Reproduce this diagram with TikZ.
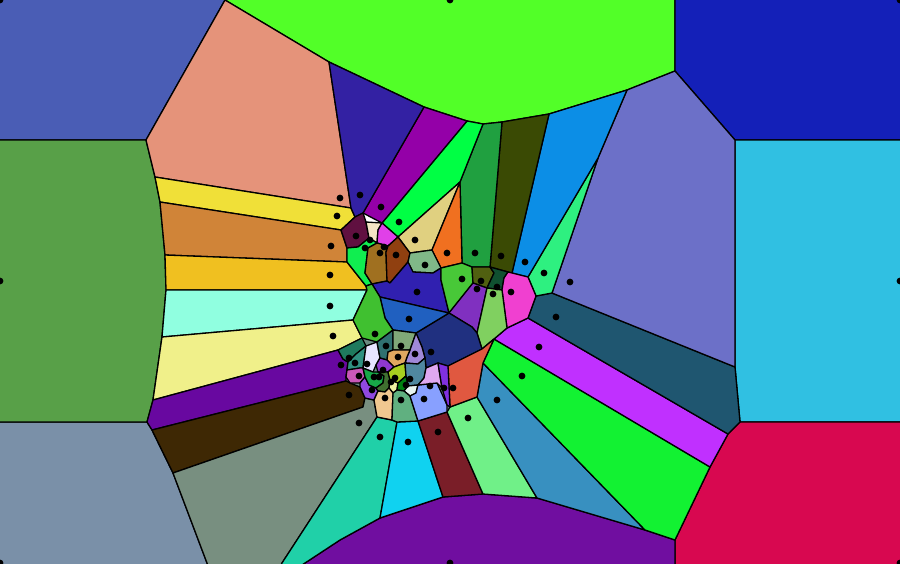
\documentclass[tikz,border=0pt]{standalone}
\definecolor{tlblue}{HTML}{4A5DB5}
\definecolor{topgreen}{HTML}{52FF28}
\definecolor{trblue}{HTML}{1420B8}
\definecolor{rcyan}{HTML}{30C0E2}
\definecolor{brred}{HTML}{D80850}
\definecolor{blgrey}{HTML}{7A90A8}
\definecolor{lgreen}{HTML}{58A048}
\definecolor{botpurple}{HTML}{700EA0}
\definecolor{salmon}{HTML}{E5937A}
\definecolor{yellowc}{HTML}{F0E038}
\definecolor{brownstripe}{HTML}{D08438}
\definecolor{golden}{HTML}{F0C020}
\definecolor{aqua}{HTML}{90FFE0}
\definecolor{lyellow}{HTML}{F0F08A}
\definecolor{purpleband}{HTML}{6808A0}
\definecolor{darkbrown}{HTML}{3E2804}
\definecolor{greygreen}{HTML}{788F80}
\definecolor{turq}{HTML}{20D0A8}
\definecolor{cyanc}{HTML}{10D2F0}
\definecolor{darkred}{HTML}{7A1E28}
\definecolor{lightgreen}{HTML}{70F088}
\definecolor{steel}{HTML}{3890C0}
\definecolor{biggreen}{HTML}{12F232}
\definecolor{violetc}{HTML}{C030FF}
\definecolor{darkteal}{HTML}{1F5670}
\definecolor{lavender}{HTML}{6C70C8}
\definecolor{spring}{HTML}{2EF080}
\definecolor{sky}{HTML}{0C8EE6}
\definecolor{olive}{HTML}{3A4A04}
\definecolor{forest}{HTML}{20A040}
\definecolor{bgstrip}{HTML}{00FF44}
\definecolor{magstrip}{HTML}{9400A8}
\definecolor{darkviolet}{HTML}{3321A3}
\definecolor{khaki}{HTML}{E0D080}
\definecolor{orangec}{HTML}{F07020}
\definecolor{maroon}{HTML}{601040}
\definecolor{beige}{HTML}{F4E4C4}
\definecolor{magsmall}{HTML}{E040E8}
\definecolor{greensmall}{HTML}{10EE50}
\definecolor{goldenrod}{HTML}{A07020}
\definecolor{brownc}{HTML}{904010}
\definecolor{sage}{HTML}{80B888}
\definecolor{darkbluec}{HTML}{3020B0}
\definecolor{greenb}{HTML}{48C838}
\definecolor{olivesmall}{HTML}{506010}
\definecolor{dkgreensmall}{HTML}{105030}
\definecolor{magentac}{HTML}{F040D0}
\definecolor{purplec}{HTML}{8030C0}
\definecolor{lgreentwo}{HTML}{80D060}
\definecolor{navy}{HTML}{203080}
\definecolor{orangered}{HTML}{E05840}
\definecolor{medblue}{HTML}{2060C0}
\definecolor{greenforty}{HTML}{40C030}
\definecolor{dktealgreen}{HTML}{1F7A5E}
\definecolor{tealc}{HTML}{309080}
\definecolor{lavwhite}{HTML}{E8E4FF}
\definecolor{tealdark}{HTML}{307070}
\definecolor{sagegrey}{HTML}{80A878}
\definecolor{lavtwo}{HTML}{A088D8}
\definecolor{orangetan}{HTML}{E0A860}
\definecolor{purplesmall}{HTML}{9038D0}
\definecolor{pinkc}{HTML}{C858B8}
\definecolor{purpletwo}{HTML}{9048E0}
\definecolor{greentwo}{HTML}{18A848}
\definecolor{yellowgreen}{HTML}{A8D020}
\definecolor{tealbluegrey}{HTML}{5088A0}
\definecolor{darkolive}{HTML}{407030}
\definecolor{paleyellow}{HTML}{F0F0A0}
\definecolor{darkgreenz}{HTML}{008010}
\definecolor{whitec}{HTML}{E8F4F0}
\definecolor{tanc}{HTML}{F0C890}
\definecolor{greengrey}{HTML}{60B080}
\definecolor{periwinkle}{HTML}{88A0FF}
\definecolor{pinklav}{HTML}{E0A8F0}
\definecolor{violettwo}{HTML}{8030E0}
\definecolor{corebg}{HTML}{6A8A80}
\begin{document}
\begin{tikzpicture}[x=1pt,y=-1pt,
  cell/.style={draw=black,line width=1.3pt,line join=round},
  seed/.style={fill=black}]
\useasboundingbox (0,0) rectangle (900,563);
\clip (0,0) rectangle (900,563);
\newcommand\vcell[2]{\filldraw[cell,fill=#1] #2 -- cycle;}
\fill[corebg] (330,270) rectangle (500,425);
% outer cells (extended past the page edge so that no border line shows)
\vcell{tlblue}{(-6,-6)--(228,-6)--(225,0)--(146,140)--(-6,140)}
\vcell{topgreen}{(228,-6)--(675,-6)--(675,71)--(627,90)--(549,114)--(502,122)--(483,124)--(467,121)--(424,107)--(329,62)--(225,0)}
\vcell{trblue}{(675,-6)--(906,-6)--(906,140)--(735,140)--(675,71)}
\vcell{rcyan}{(735,140)--(906,140)--(906,422)--(740,422)--(735,367)}
\vcell{brred}{(740,422)--(906,422)--(906,569)--(675,569)--(675,540)--(710,467)--(728,434)}
\vcell{blgrey}{(-6,422)--(147,422)--(152,430)--(173,473)--(207,563)--(209,569)--(-6,569)}
\vcell{lgreen}{(-6,140)--(146,140)--(155,177)--(160,202)--(165,255)--(166,290)--(162,337)--(153,400)--(147,422)--(-6,422)}
\vcell{botpurple}{(305,563)--(340,540)--(380,518)--(443,497)--(483,494)--(537,498)--(645,530)--(675,540)--(675,569)--(296,569)}
% fans
\vcell{salmon}{(225,0)--(329,62)--(351,208)--(155,177)--(146,140)}
\vcell{yellowc}{(155,177)--(351,208)--(355,217)--(341,230)--(160,202)}
\vcell{brownstripe}{(160,202)--(341,230)--(347,248)--(347,262)--(165,255)}
\vcell{golden}{(165,255)--(347,262)--(366,286)--(367,290)--(166,290)}
\vcell{aqua}{(166,290)--(367,290)--(353,320)--(162,337)}
\vcell{lyellow}{(162,337)--(353,320)--(362,338)--(338,350)--(153,400)}
\vcell{purpleband}{(153,400)--(338,350)--(343,359)--(348,362)--(347,370)--(346,377)--(346,381)--(152,430)--(147,422)}
\vcell{darkbrown}{(152,430)--(346,381)--(350,383)--(360,387)--(365,398)--(363,407)--(173,473)}
\vcell{greygreen}{(173,473)--(363,407)--(365,398)--(374,400)--(377,417)--(282,563)--(279,569)--(209,569)--(207,563)}
\vcell{turq}{(377,417)--(392,420)--(397,422)--(380,518)--(340,540)--(305,563)--(296,569)--(279,569)--(282,563)}
\vcell{cyanc}{(397,422)--(418,421)--(443,497)--(380,518)}
\vcell{darkred}{(418,421)--(447,412)--(483,494)--(443,497)}
\vcell{lightgreen}{(447,412)--(450,407)--(477,397)--(537,498)--(483,494)}
\vcell{steel}{(477,397)--(483,363)--(645,530)--(537,498)}
\vcell{biggreen}{(494,339)--(710,467)--(675,540)--(645,530)--(483,363)}
\vcell{violetc}{(507,328)--(528,318)--(728,434)--(710,467)--(494,339)}
\vcell{darkteal}{(536,296)--(552,293)--(735,367)--(740,422)--(728,434)--(528,318)}
\vcell{lavender}{(627,90)--(675,71)--(735,140)--(735,367)--(552,293)--(598,158)}
\vcell{spring}{(598,158)--(552,293)--(536,296)--(528,277)}
\vcell{sky}{(549,114)--(627,90)--(598,158)--(528,277)--(512,273)}
\vcell{olive}{(502,122)--(549,114)--(512,273)--(508,272)--(490,267)}
\vcell{forest}{(483,124)--(502,122)--(490,267)--(472,267)--(462,263)--(460,182)}
\vcell{bgstrip}{(467,121)--(483,124)--(460,182)--(398,237)--(382,223)}
\vcell{magstrip}{(424,107)--(467,121)--(382,223)--(363,213)}
\vcell{darkviolet}{(329,62)--(424,107)--(363,213)--(355,217)--(351,208)}
% upper core
\vcell{khaki}{(460,182)--(432,250)--(410,253)--(398,237)}
\vcell{orangec}{(460,182)--(462,263)--(441,268)--(432,250)}
\vcell{maroon}{(341,230)--(355,217)--(363,213)--(366,222)--(369,238)--(358,247)--(347,248)}
\vcell{beige}{(366,222)--(382,223)--(378,230)--(377,243)--(369,238)}
\vcell{magsmall}{(382,223)--(398,237)--(388,246)--(377,243)--(378,230)}
\vcell{greensmall}{(347,248)--(358,247)--(369,238)--(377,243)--(368,248)--(365,273)--(372,284)--(366,286)--(347,262)}
\vcell{goldenrod}{(368,248)--(377,243)--(388,246)--(386,252)--(387,281)--(372,284)--(365,273)}
\vcell{brownc}{(388,246)--(398,237)--(410,253)--(408,262)--(390,283)--(387,281)--(386,252)}
\vcell{sage}{(410,253)--(432,250)--(441,268)--(433,273)--(413,272)--(408,262)}
\vcell{darkbluec}{(372,284)--(387,281)--(390,283)--(408,262)--(413,272)--(433,273)--(441,268)--(441,280)--(449,313)--(380,297)}
\vcell{greenb}{(441,268)--(462,263)--(472,267)--(473,283)--(449,313)--(441,280)}
\vcell{olivesmall}{(472,267)--(490,267)--(494,273)--(487,288)--(473,283)}
\vcell{dkgreensmall}{(490,267)--(508,272)--(504,278)--(502,290)--(487,288)--(494,273)}
\vcell{magentac}{(504,278)--(508,272)--(512,273)--(528,277)--(536,296)--(528,318)--(507,328)--(502,290)}
\vcell{purplec}{(473,283)--(487,288)--(477,333)--(472,327)--(449,313)}
\vcell{lgreentwo}{(487,288)--(502,290)--(507,328)--(494,339)--(482,349)--(477,333)}
\vcell{navy}{(416,333)--(449,313)--(472,327)--(477,333)--(482,349)--(448,366)--(438,363)--(426,368)--(425,358)--(422,347)}
\vcell{orangered}{(448,366)--(482,349)--(494,339)--(483,363)--(477,397)--(450,407)}
\vcell{medblue}{(380,297)--(449,313)--(416,333)--(393,330)--(385,318)}
\vcell{greenforty}{(366,286)--(372,284)--(380,297)--(385,318)--(393,330)--(377,342)--(362,338)--(353,320)--(367,290)}
% lower core
\vcell{dktealgreen}{(338,350)--(362,338)--(366,346)--(356,354)--(348,362)--(343,359)}
\vcell{tealc}{(348,362)--(356,354)--(366,346)--(363,368)--(360,368)--(347,370)}
\vcell{lavwhite}{(366,346)--(377,342)--(380,358)--(376,365)--(373,372)--(363,368)}
\vcell{tealdark}{(377,342)--(393,330)--(393,350)--(388,352)--(387,360)--(380,358)}
\vcell{sagegrey}{(393,330)--(416,333)--(410,350)--(393,350)}
\vcell{lavtwo}{(416,333)--(422,347)--(425,358)--(418,364)--(405,363)--(407,357)--(410,350)}
\vcell{orangetan}{(388,352)--(393,350)--(410,350)--(407,357)--(405,363)--(394,367)--(387,360)}
\vcell{purplesmall}{(380,358)--(387,360)--(394,367)--(388,372)--(378,372)--(376,365)}
\vcell{pinkc}{(347,370)--(360,368)--(363,368)--(365,377)--(360,383)--(350,383)--(346,377)}
\vcell{purpletwo}{(360,383)--(365,377)--(369,385)--(376,388)--(378,391)--(374,400)--(365,398)--(360,387)}
\vcell{greentwo}{(363,368)--(373,372)--(378,372)--(384,376)--(383,383)--(376,388)--(369,385)--(365,377)}
\vcell{darkolive}{(378,372)--(388,372)--(390,380)--(389,388)--(385,392)--(378,391)--(376,388)--(383,383)--(384,376)}
\vcell{yellowgreen}{(388,372)--(394,367)--(405,363)--(406,376)--(398,383)--(390,380)}
\vcell{tealbluegrey}{(405,363)--(418,364)--(425,358)--(426,368)--(424,378)--(418,385)--(408,386)--(406,376)}
\vcell{paleyellow}{(390,380)--(398,383)--(397,390)--(393,393)--(389,388)}
\vcell{darkgreenz}{(398,383)--(406,376)--(408,386)--(404,391)--(397,390)}
\vcell{whitec}{(404,391)--(408,386)--(418,385)--(416,393)--(410,396)}
\vcell{tanc}{(374,400)--(378,391)--(385,392)--(389,388)--(393,393)--(392,420)--(377,417)}
\vcell{greengrey}{(393,393)--(397,390)--(404,391)--(410,396)--(418,421)--(397,422)--(392,420)}
\vcell{periwinkle}{(410,396)--(416,393)--(418,385)--(437,383)--(447,405)--(447,412)--(418,421)}
\vcell{pinklav}{(426,368)--(438,363)--(442,388)--(437,383)--(418,385)--(424,378)}
\vcell{violettwo}{(438,363)--(448,366)--(450,407)--(447,405)--(442,388)}
% seed points
\foreach \p in {(340,198),(360,195),(381,207),(399,222),(415,240),(447,253),(475,253),(501,256),(525,262),(544,273),(570,282),
  (337,216),(356,236),(370,240),(384,247),(365,248),(380,253),(396,255),(331,246),(330,275),(425,265),(462,279),(481,281),(477,289),
  (497,287),(493,294),(511,292),(417,292),(330,306),(556,317),(409,319),(333,336),(375,334),(539,347),(386,346),(401,346),(415,354),
  (431,352),(398,357),(349,358),(355,363),(341,365),(367,364),(383,370),(359,376),(374,377),(379,377),(391,382),(395,378),(406,385),
  (410,379),(430,386),(444,388),(453,388),(372,390),(385,398),(401,400),(424,399),(349,395),(359,423),(380,437),(408,442),(438,432),
  (468,418),(497,400),(522,376),(450,0),(450,563),(0,281),(900,281),(0,0),(900,0),(0,563),(900,563)}
  \fill[seed] \p circle (3.4pt);
\end{tikzpicture}
\end{document}
